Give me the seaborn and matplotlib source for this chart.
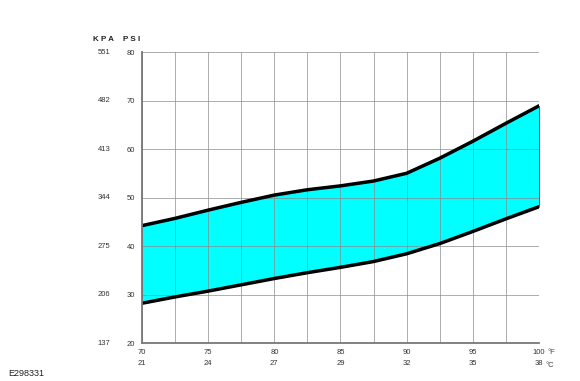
import matplotlib
matplotlib.use("Agg")
import matplotlib.pyplot as plt
import pandas as pd
import numpy as np
import seaborn as sns

# ---------------- data ----------------
temp_f = [70, 72.5, 75, 77.5, 80, 82.5, 85, 87.5, 90, 92.5, 95, 97.5, 100]
psi_upper = [44.2, 45.7, 47.4, 49.0, 50.5, 51.6, 52.4, 53.4, 55.0, 58.1, 61.6, 65.3, 68.9]
psi_lower = [28.2, 29.5, 30.7, 32.0, 33.3, 34.5, 35.6, 36.8, 38.4, 40.5, 43.0, 45.6, 48.1]

psi_ticks = [20, 30, 40, 50, 60, 70, 80]
kpa_labels = ["137", "206", "275", "344", "413", "482", "551"]
f_ticks = [70, 75, 80, 85, 90, 95, 100]
c_labels = ["21", "24", "27", "29", "32", "35", "38"]

df = pd.DataFrame({"temp": temp_f, "upper": psi_upper, "lower": psi_lower})

sns.set_style("white")
plt.rcParams["font.family"] = ["Liberation Sans", "DejaVu Sans"]

fig = plt.figure(figsize=(5.8, 3.81), dpi=100)
ax = fig.add_axes([0.2448, 0.0997, 0.6845, 0.7638])

# band between the two limits
ax.fill_between(df["temp"], df["lower"], df["upper"], color="#00ffff",
                edgecolor="#2030ff", linewidth=0.6, zorder=1)
sns.lineplot(data=df, x="temp", y="upper", color="black", linewidth=2.5,
             ax=ax, zorder=4, solid_joinstyle="round", solid_capstyle="round")
sns.lineplot(data=df, x="temp", y="lower", color="black", linewidth=2.5,
             ax=ax, zorder=4, solid_joinstyle="round", solid_capstyle="round")

ax.set_xlim(70, 100)
ax.set_ylim(20, 80)
ax.set_xticks(f_ticks)
ax.set_xticks(np.arange(72.5, 100, 5), minor=True)
ax.set_yticks(psi_ticks)
ax.set_xticklabels([str(t) for t in f_ticks], fontsize=5.5, color="#333333")
ax.set_yticklabels([str(t) for t in psi_ticks], fontsize=5.5, color="#333333")
ax.tick_params(axis="both", which="both", length=0)
ax.tick_params(axis="x", pad=4)
ax.tick_params(axis="y", pad=5)

ax.grid(True, which="both", color="#8a8a8a", linewidth=0.7, alpha=0.7, zorder=3)
ax.set_axisbelow(False)
ax.set_xlabel("")
ax.set_ylabel("")

for side in ["top", "right"]:
    ax.spines[side].set_visible(False)
for side in ["left", "bottom"]:
    ax.spines[side].set_color("#777777")
    ax.spines[side].set_linewidth(1.3)
    ax.spines[side].set_zorder(5)

# kPa column
ytr = ax.get_yaxis_transform()
for p, k in zip(psi_ticks, kpa_labels):
    ax.text(-0.096, p, k, transform=ytr, ha="center", va="center",
            fontsize=5.5, color="#333333")
ax.text(-0.096, 1.03, "K P A", transform=ax.transAxes, ha="center", va="bottom",
        fontsize=5.8, fontweight="bold", color="#222222")
ax.text(-0.026, 1.03, "P S I", transform=ax.transAxes, ha="center", va="bottom",
        fontsize=5.8, fontweight="bold", color="#222222")

# Celsius row
xtr = ax.get_xaxis_transform()
for f, c in zip(f_ticks, c_labels):
    ax.text(f, -0.072, c, transform=xtr, ha="center", va="center",
            fontsize=5.5, color="#333333")
ax.text(1.022, -0.032, "°F", transform=ax.transAxes, ha="left", va="center",
        fontsize=5.5, color="#444444")
ax.text(1.017, -0.076, "°C", transform=ax.transAxes, ha="left", va="center",
        fontsize=5.5, color="#444444")

fig.text(8 / 580, 1 - 373 / 381, "E298331", ha="left", va="center",
         fontsize=6.5, color="#222222")

fig.savefig("out.png", dpi=100)
